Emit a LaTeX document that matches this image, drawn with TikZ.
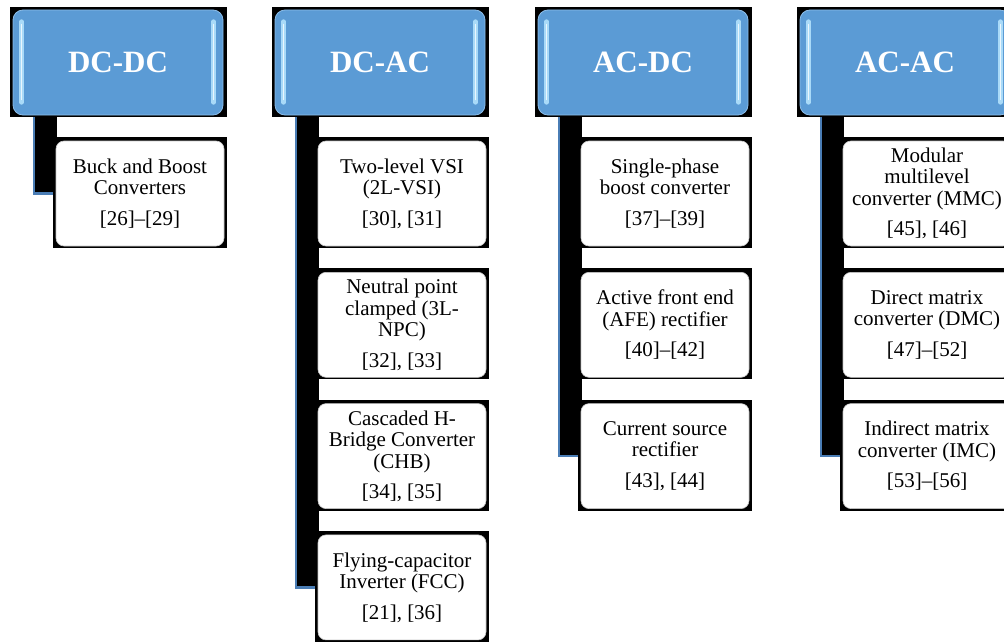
\documentclass[tikz,border=0pt]{standalone}
\usepackage{fontspec}
\setmainfont{Liberation Serif}
\definecolor{headblue}{HTML}{5B9BD5}
\definecolor{headrim}{HTML}{8CBDE9}
\definecolor{glow}{HTML}{A9DAF8}
\definecolor{linkblue}{HTML}{4A7DB5}
\tikzset{
  head/.style={rectangle, rounded corners=10pt, fill=headblue, draw=headrim,
    line width=0.8pt, minimum width=210pt, minimum height=105pt, inner sep=0pt,
    text=white, font=\bfseries\fontsize{31}{34}\selectfont},
  item/.style={rectangle, rounded corners=8pt, fill=white, draw=black!22,
    line width=0.6pt, minimum width=168pt, minimum height=105pt, inner sep=0pt,
    align=center, font=\fontsize{21}{21.5}\selectfont},
  conn/.style={draw=linkblue, line width=2.6pt},
  backing/.style={fill=black},
  gleamwide/.style={draw=glow, line width=4.5pt, line cap=round},
  gleamcore/.style={draw=white!75!glow, line width=1.6pt, line cap=round}
}
\begin{document}
\begin{tikzpicture}[x=1pt, y=-1pt]
\useasboundingbox (0,0) rectangle (1004,642);
\clip (0,0) rectangle (1004,642);

% dark backing plates behind headers, stems and item boxes
\foreach \x/\n in {13/1, 275/4, 538/3, 800/3} {
  \fill[backing] (\x-3,7) rectangle (\x+214,117);
  \pgfmathsetmacro\ybot{141+131.3*(\n-1)+52.5}
  \fill[backing] (\x+20,115) rectangle (\x+44,\ybot);
  \foreach \i in {1,...,\n} {
    \pgfmathsetmacro\yt{141+131.3*(\i-1)}
    \fill[backing] (\x+40,\yt-4) rectangle (\x+214,\yt+107);
  }
}

% column headers
\node[head] (h1) at (118,62.5) {DC-DC};
\node[head] (h2) at (380,62.5) {DC-AC};
\node[head] (h3) at (643,62.5) {AC-DC};
\node[head] (h4) at (905,62.5) {AC-AC};

% glossy side highlights on the headers
\foreach \h in {h1,h2,h3,h4} {
  \draw[gleamwide] ([xshift=9pt,yshift=-12pt]\h.north west) -- ([xshift=9pt,yshift=13pt]\h.south west);
  \draw[gleamcore] ([xshift=9pt,yshift=-15pt]\h.north west) -- ([xshift=9pt,yshift=16pt]\h.south west);
  \draw[gleamwide] ([xshift=-10pt,yshift=-12pt]\h.north east) -- ([xshift=-10pt,yshift=13pt]\h.south east);
  \draw[gleamcore] ([xshift=-10pt,yshift=-15pt]\h.north east) -- ([xshift=-10pt,yshift=16pt]\h.south east);
}

% DC-DC
\node[item] (c11) at (140,193.5) {Buck and Boost\\Converters\\[9pt]{}[26]–[29]};

% DC-AC
\node[item] (c21) at (402,193.5) {Two-level VSI\\(2L-VSI)\\[9pt]{}[30], [31]};
\node[item] (c22) at (402,324.8) {Neutral point\\clamped (3L-\\NPC)\\[9pt]{}[32], [33]};
\node[item] (c23) at (402,456.1) {Cascaded H-\\Bridge Converter\\(CHB)\\[9pt]{}[34], [35]};
\node[item] (c24) at (402,587.4) {Flying-capacitor\\Inverter (FCC)\\[9pt]{}[21], [36]};

% AC-DC
\node[item] (c31) at (665,193.5) {Single-phase\\boost converter\\[9pt]{}[37]–[39]};
\node[item] (c32) at (665,324.8) {Active front end\\(AFE) rectifier\\[9pt]{}[40]–[42]};
\node[item] (c33) at (665,456.1) {Current source\\rectifier\\[9pt]{}[43], [44]};

% AC-AC
\node[item] (c41) at (927,193.5) {Modular\\multilevel\\converter (MMC)\\[9pt]{}[45], [46]};
\node[item] (c42) at (927,324.8) {Direct matrix\\converter (DMC)\\[9pt]{}[47]–[52]};
\node[item] (c43) at (927,456.1) {Indirect matrix\\converter (IMC)\\[9pt]{}[53]–[56]};

% stems from each header down to its last item
\draw[conn] ([xshift=21.5pt,yshift=-2pt]h1.south west) |- ([xshift=-3pt]c11.west);
\draw[conn] ([xshift=21.5pt,yshift=-2pt]h2.south west) |- ([xshift=-3pt]c24.west);
\draw[conn] ([xshift=21.5pt,yshift=-2pt]h3.south west) |- ([xshift=-3pt]c33.west);
\draw[conn] ([xshift=21.5pt,yshift=-2pt]h4.south west) |- ([xshift=-3pt]c43.west);
\end{tikzpicture}
\end{document}
